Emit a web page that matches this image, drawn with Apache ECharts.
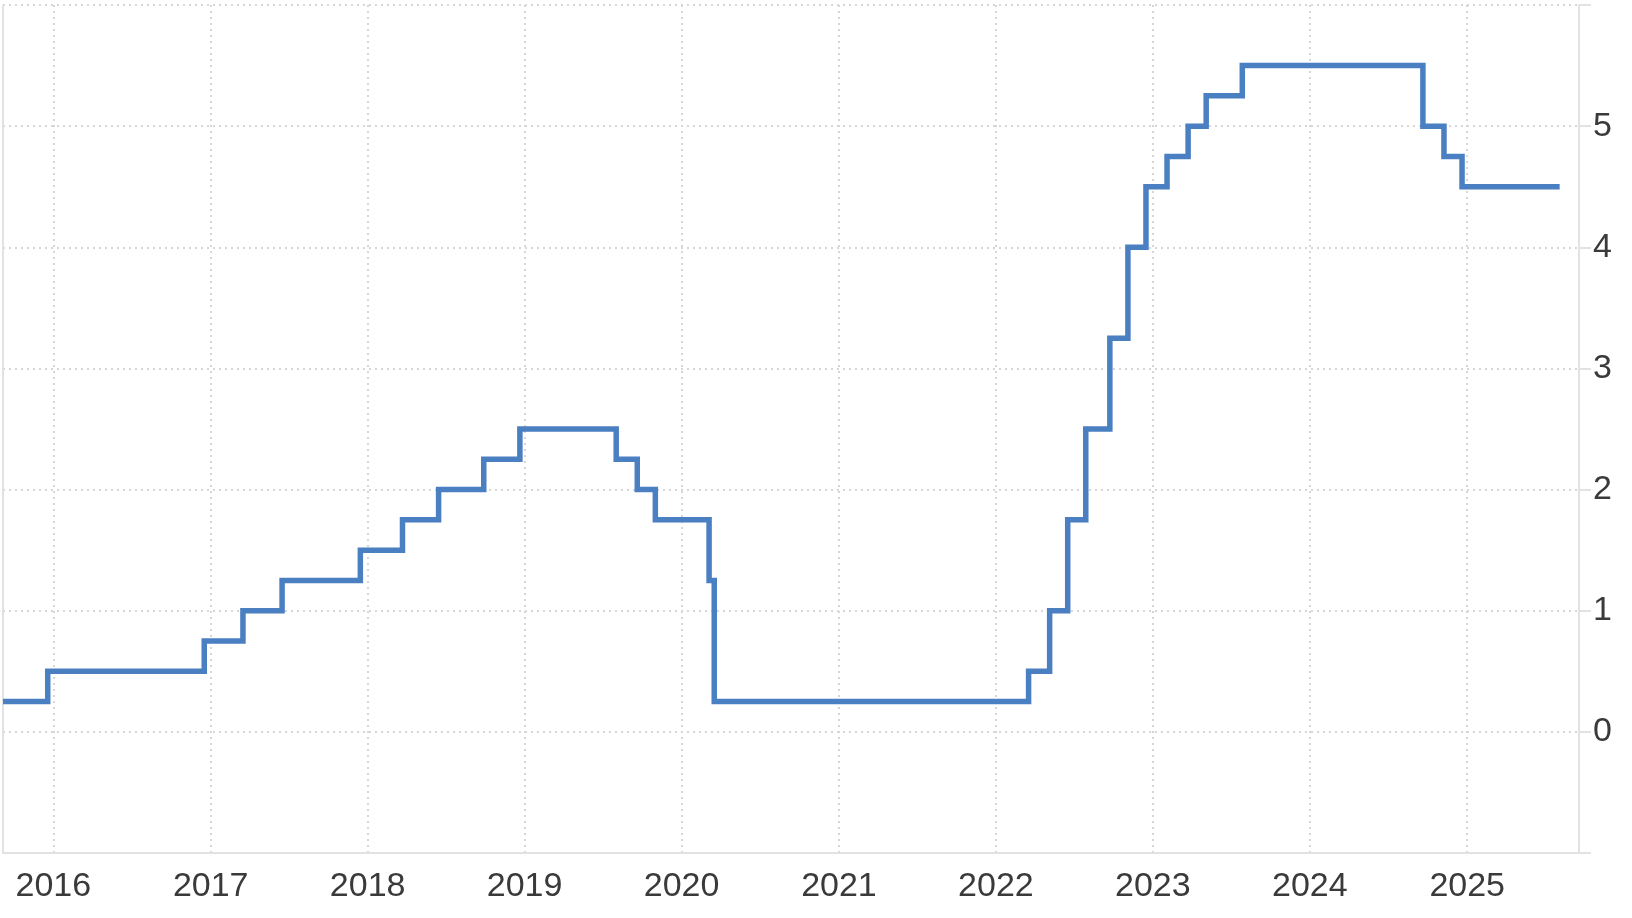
<!DOCTYPE html>
<html>
<head>
<meta charset="utf-8">
<script src="https://cdn.jsdelivr.net/npm/echarts@6/dist/echarts.min.js"></script>
<style>
html,body{margin:0;padding:0;background:#fff;}
#chart{width:1632px;height:918px;}
</style>
</head>
<body>
<div id="chart"></div>
<script>
// Step-change dates and the rate level that starts on each date
const changeDates = [
  '2015-09-06','2015-12-19','2016-12-17','2017-03-17','2017-06-16','2017-12-15',
  '2018-03-23','2018-06-15','2018-09-28','2018-12-21','2019-08-02','2019-09-20',
  '2019-11-01','2020-03-05','2020-03-17','2022-03-18','2022-05-06','2022-06-17',
  '2022-07-29','2022-09-23','2022-11-04','2022-12-16','2023-02-03','2023-03-24',
  '2023-05-05','2023-07-28','2024-09-20','2024-11-08','2024-12-20','2025-08-04'
];
const rateValues = [
  0.25,0.5,0.75,1.0,1.25,1.5,
  1.75,2.0,2.25,2.5,2.25,2.0,
  1.75,1.25,0.25,0.5,1.0,1.75,
  2.5,3.25,4.0,4.5,4.75,5.0,
  5.25,5.5,5.0,4.75,4.5,4.5
];
const yTickLabels = ['0','1','2','3','4','5'];
const axisMinDate = '2015-09-06';
const axisMaxDate = '2025-09-18';

const seriesData = changeDates.map((d, i) => [d, rateValues[i]]);
const DAY = 24 * 3600 * 1000;

const chart = echarts.init(document.getElementById('chart'));
const textStyle = { fontFamily: 'Liberation Sans, Arial, sans-serif', fontSize: 34, color: '#3a3a3a' };
const gridLine = { show: true, lineStyle: { color: '#d6d6d6', width: 2, type: [2, 4] } };

chart.setOption({
  animation: false,
  backgroundColor: '#ffffff',
  grid: { left: 3, right: 53, top: 5, bottom: 65, containLabel: false },
  xAxis: {
    type: 'time',
    min: axisMinDate,
    max: axisMaxDate,
    minInterval: 365 * DAY,
    maxInterval: 366 * DAY,
    axisLine: { show: true, onZero: false, lineStyle: { color: '#e2e2e2', width: 2 } },
    axisTick: { show: false },
    splitLine: gridLine,
    axisLabel: Object.assign({
      margin: 17,
      showMinLabel: false,
      showMaxLabel: false,
      formatter: function (v) { return String(new Date(v).getFullYear()); }
    }, textStyle)
  },
  yAxis: [{
    type: 'value',
    position: 'right',
    min: -1,
    max: 6,
    interval: 1,
    axisLine: { show: true, lineStyle: { color: '#e2e2e2', width: 2 } },
    axisTick: { show: true, length: 12, lineStyle: { color: '#e2e2e2', width: 2 } },
    splitLine: gridLine,
    axisLabel: Object.assign({
      margin: 14,
      formatter: function (v) {
        const s = String(v);
        return yTickLabels.indexOf(s) >= 0 ? s : '';
      }
    }, textStyle)
  }, {
    type: 'value',
    position: 'left',
    min: -1,
    max: 6,
    interval: 1,
    axisLine: { show: true, lineStyle: { color: '#e2e2e2', width: 2 } },
    axisTick: { show: false },
    axisLabel: { show: false },
    splitLine: { show: false }
  }],
  series: [{
    type: 'line',
    step: 'end',
    data: seriesData,
    showSymbol: false,
    symbol: 'none',
    lineStyle: { color: '#4a7fc1', width: 5.5, join: 'miter' },
    yAxisIndex: 0
  }]
});
</script>
</body>
</html>
